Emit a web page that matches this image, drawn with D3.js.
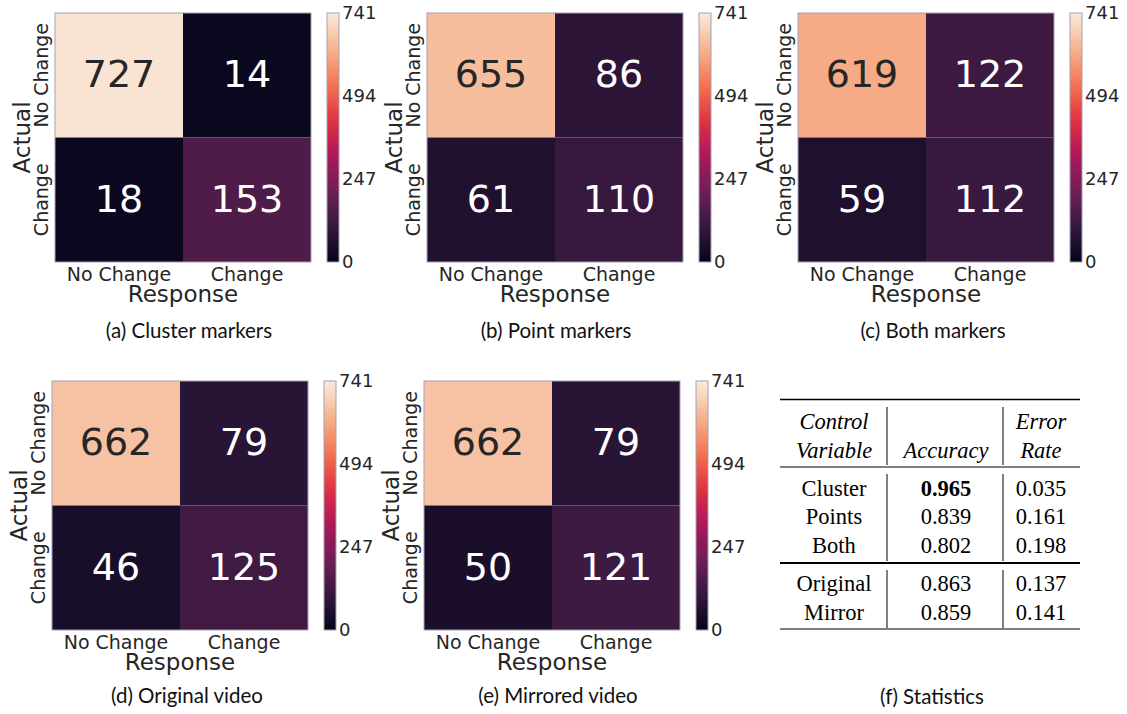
<!DOCTYPE html>
<html>
<head>
<meta charset="utf-8">
<script src="https://cdn.jsdelivr.net/npm/d3@7"></script>
<style>
  html, body { margin: 0; padding: 0; background: #fff; }
  svg { display: block; }
</style>
</head>
<body>
<svg id="fig" width="1127" height="714"></svg>
<script>
// ---- data ----
const classLabels = ["No Change", "Change"];           // rows: actual, columns: response
const clusterCounts  = [[727, 14], [18, 153]];
const pointCounts    = [[655, 86], [61, 110]];
const bothCounts     = [[619, 122], [59, 112]];
const originalCounts = [[662, 79], [46, 125]];
const mirroredCounts = [[662, 79], [50, 121]];
const colorbarTicks  = [0, 247, 494, 741];
const captions = ["(a) Cluster markers", "(b) Point markers", "(c) Both markers",
                  "(d) Original video", "(e) Mirrored video", "(f) Statistics"];

const controlVariables = ["Cluster", "Points", "Both", "Original", "Mirror"];
const accuracy  = ["0.965", "0.839", "0.802", "0.863", "0.859"];
const errorRate = ["0.035", "0.161", "0.198", "0.137", "0.141"];

// seaborn "rocket" colormap anchors
const rocket = ["#03051a", "#35193e", "#701f57", "#ad1759", "#e13342", "#f37651", "#f6b48f", "#faebdd"];

// ---- layout ----
const heatW = 256, heatH = 249;
const layout = [
  { counts: clusterCounts,  left: 55,  top: 13,  cap: captions[0], capX: 189, capY: 338 },
  { counts: pointCounts,    left: 427, top: 13,  cap: captions[1], capX: 556, capY: 338 },
  { counts: bothCounts,     left: 798, top: 13,  cap: captions[2], capX: 933, capY: 338 },
  { counts: originalCounts, left: 52,  top: 381, cap: captions[3], capX: 187, capY: 703 },
  { counts: mirroredCounts, left: 424, top: 381, cap: captions[4], capX: 558, capY: 703 }
];

const vmax = d3.max(colorbarTicks);
const color = d3.scaleLinear()
  .domain(rocket.map((_, i) => vmax * i / (rocket.length - 1)))
  .range(rocket)
  .interpolate(d3.interpolateRgb)
  .clamp(true);

function luminance(c) {
  const rgb = d3.rgb(c);
  const f = v => { v /= 255; return v <= 0.03928 ? v / 12.92 : Math.pow((v + 0.055) / 1.055, 2.4); };
  return 0.2126 * f(rgb.r) + 0.7152 * f(rgb.g) + 0.0722 * f(rgb.b);
}

const svg = d3.select("#fig");
svg.append("rect").attr("width", 1127).attr("height", 714).attr("fill", "#fff");

const defs = svg.append("defs");
const grad = defs.append("linearGradient").attr("id", "rocketGrad")
  .attr("x1", 0).attr("y1", 1).attr("x2", 0).attr("y2", 0);
d3.range(0, 1.0001, 0.05).forEach(t => {
  grad.append("stop").attr("offset", t).attr("stop-color", color(t * vmax));
});

const ink = "#262626";
const sans = "DejaVu Sans, sans-serif";
const capFont = "Lato, sans-serif";

layout.forEach(p => {
  const g = svg.append("g").attr("transform", `translate(${p.left},${p.top})`);
  const x = d3.scaleBand().domain(classLabels).range([0, heatW]);
  const y = d3.scaleBand().domain(classLabels).range([0, heatH]);

  const cells = [];
  p.counts.forEach((row, i) => row.forEach((v, j) => cells.push({ actual: classLabels[i], response: classLabels[j], v })));

  g.selectAll("rect.cell").data(cells).join("rect")
    .attr("class", "cell")
    .attr("x", d => x(d.response)).attr("y", d => y(d.actual))
    .attr("width", x.bandwidth()).attr("height", y.bandwidth())
    .attr("fill", d => color(d.v));

  g.append("rect").attr("width", heatW).attr("height", heatH)
    .attr("fill", "none").attr("stroke", "#a79fb3").attr("stroke-width", 1);

  g.selectAll("text.annot").data(cells).join("text")
    .attr("class", "annot")
    .attr("x", d => x(d.response) + x.bandwidth() / 2)
    .attr("y", d => y(d.actual) + y.bandwidth() / 2)
    .attr("dy", "0.32em")
    .attr("text-anchor", "middle")
    .attr("font-family", sans).attr("font-size", 38)
    .attr("fill", d => luminance(color(d.v)) > 0.408 ? ink : "#ffffff")
    .text(d => d.v);

  // x axis (response)
  const xa = g.append("g").attr("transform", `translate(0,${heatH})`)
    .call(d3.axisBottom(x).tickSize(0));
  xa.select(".domain").remove();
  xa.selectAll("text").attr("y", 19).attr("dy", 0)
    .attr("font-family", sans).attr("font-size", 19).attr("fill", ink);

  // y axis (actual)
  const ya = g.append("g").call(d3.axisLeft(y).tickSize(0));
  ya.select(".domain").remove();
  ya.selectAll("text")
    .attr("transform", "rotate(-90)")
    .attr("x", 0).attr("y", -7).attr("dy", 0)
    .attr("text-anchor", "middle")
    .attr("font-family", sans).attr("font-size", 19).attr("fill", ink);

  g.append("text").attr("x", heatW / 2).attr("y", heatH + 40)
    .attr("text-anchor", "middle").attr("font-family", sans).attr("font-size", 23).attr("fill", ink)
    .text("Response");
  g.append("text").attr("transform", `translate(-25,${heatH / 2}) rotate(-90)`)
    .attr("text-anchor", "middle").attr("font-family", sans).attr("font-size", 23).attr("fill", ink)
    .text("Actual");

  // colorbar
  const cb = g.append("g").attr("transform", `translate(${heatW + 16},0)`);
  cb.append("rect").attr("width", 12).attr("height", heatH)
    .attr("fill", "url(#rocketGrad)").attr("stroke", "#a79fb3").attr("stroke-width", 1);
  const cScale = d3.scaleLinear().domain([0, vmax]).range([heatH, 0]);
  const ca = cb.append("g").attr("transform", "translate(12,0)")
    .call(d3.axisRight(cScale).tickValues(colorbarTicks).tickSize(0).tickPadding(3));
  ca.select(".domain").remove();
  ca.selectAll("text").attr("font-family", sans).attr("font-size", 18).attr("fill", ink);

  svg.append("text").attr("x", p.capX).attr("y", p.capY)
    .attr("text-anchor", "middle").attr("font-family", capFont).attr("font-size", 20.5)
    .attr("fill", "#111").text(p.cap);
});

// ---- statistics table ----
const serif = "Liberation Serif, serif";
const tbl = svg.append("g");
const colX = [834, 946, 1041];
const ruleL = 780, ruleR = 1080;
const rowY = d3.scalePoint().domain(controlVariables.slice(0, 3)).range([488, 545]);
const rowY2 = d3.scalePoint().domain(controlVariables.slice(3)).range([583, 612]);
const yOf = name => rowY.domain().includes(name) ? rowY(name) : rowY2(name);

[[399.5, 1.5], [467, 1.1], [563, 2], [629, 1.2]].forEach(([yy, sw]) => {
  tbl.append("line").attr("x1", ruleL).attr("x2", ruleR).attr("y1", yy).attr("y2", yy)
    .attr("stroke", "#000").attr("stroke-width", sw);
});
[887, 1003].forEach(vx => {
  [[407, 465], [474, 561], [570, 628]].forEach(([y1, y2]) => {
    tbl.append("line").attr("x1", vx).attr("x2", vx).attr("y1", y1).attr("y2", y2)
      .attr("stroke", "#000").attr("stroke-width", 1);
  });
});

const header = [["Control", "Variable"], ["", "Accuracy"], ["Error", "Rate"]];
header.forEach((lines, c) => {
  lines.forEach((t, k) => {
    tbl.append("text").attr("x", colX[c]).attr("y", k === 0 ? 421 : 450).attr("dy", "0.35em")
      .attr("text-anchor", "middle").attr("font-family", serif).attr("font-style", "italic")
      .attr("font-size", 22.5).attr("fill", "#000").text(t);
  });
});

controlVariables.forEach((name, i) => {
  const yy = yOf(name);
  const row = [name, accuracy[i], errorRate[i]];
  row.forEach((t, c) => {
    tbl.append("text").attr("x", colX[c]).attr("y", yy).attr("dy", "0.35em")
      .attr("text-anchor", "middle").attr("font-family", serif).attr("font-size", 22.5)
      .attr("font-weight", c === 1 && i === 0 ? "bold" : "normal")
      .attr("fill", "#000").text(t);
  });
});

svg.append("text").attr("x", 932).attr("y", 704)
  .attr("text-anchor", "middle").attr("font-family", capFont).attr("font-size", 20.5)
  .attr("fill", "#111").text(captions[5]);
</script>
</body>
</html>
